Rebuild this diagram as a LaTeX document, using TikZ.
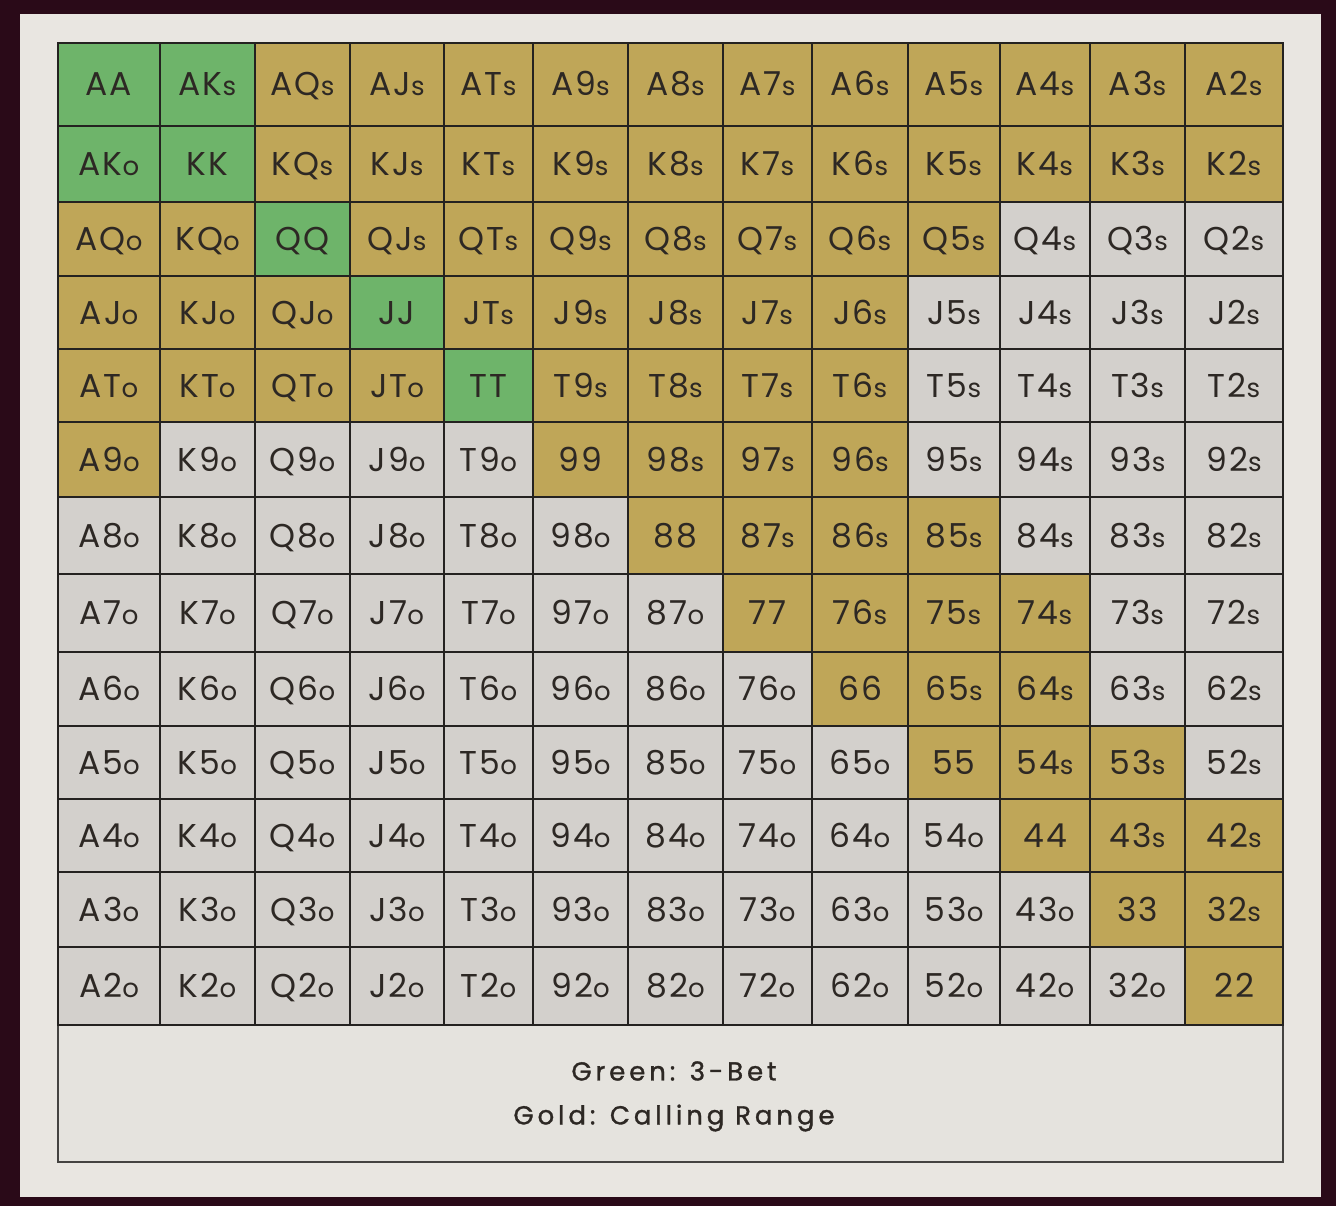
\documentclass[tikz,border=0pt]{standalone}
\usepackage{fontspec}
\setmainfont{Poppins}
\definecolor{cgreen}{RGB}{110,180,106}
\definecolor{cgold}{RGB}{191,166,88}
\definecolor{cgray}{RGB}{211,208,204}
\definecolor{cpanel}{RGB}{233,230,225}
\definecolor{clegend}{RGB}{229,227,222}
\definecolor{cmaroon}{RGB}{42,10,24}
\definecolor{cline}{RGB}{36,34,32}
\definecolor{ctext}{RGB}{45,40,36}
\newcommand\suffixtxt[1]{{\fontsize{26}{26}\selectfont #1}}
\begin{document}
\begin{tikzpicture}[x=1pt,y=-1pt,
  cellbox/.style={draw=cline, line width=2.6pt, inner sep=0pt, outer sep=0pt,
    anchor=north west, text=ctext, font=\fontsize{33}{33}\selectfont\addfontfeature{LetterSpace=6},
    text height=23pt, text depth=0pt},
  legendbox/.style={draw=cline!85, line width=2.4pt, fill=clegend, inner sep=0pt, outer sep=0pt, anchor=north west},
  legendtxt/.style={text=ctext, inner sep=0pt, font=\fontsize{26}{26}\selectfont\addfontfeature{LetterSpace=15,FakeBold=1.2}}]
\useasboundingbox (0,0) rectangle (1336,1206);
\fill[cmaroon] (0,0) rectangle (1336,1206);
\fill[cpanel] (20,14) rectangle (1321,1197);
\node[legendbox, minimum width=1225pt, minimum height=137pt] (legend) at (58,1025) {};
\def\xs{{58,160,255,350,444,533,628,723,812,908,1000,1090,1185,1283}}
\def\ys{{43,126,202,276,349,422,497,574,652,726,799,872,947,1025}}
\def\ranks{{"A","K","Q","J","T","9","8","7","6","5","4","3","2"}}
\foreach [count=\ri from 0] \rowcols in {
  {2,2,1,1,1,1,1,1,1,1,1,1,1},
  {2,2,1,1,1,1,1,1,1,1,1,1,1},
  {1,1,2,1,1,1,1,1,1,1,0,0,0},
  {1,1,1,2,1,1,1,1,1,0,0,0,0},
  {1,1,1,1,2,1,1,1,1,0,0,0,0},
  {1,0,0,0,0,1,1,1,1,0,0,0,0},
  {0,0,0,0,0,0,1,1,1,1,0,0,0},
  {0,0,0,0,0,0,0,1,1,1,1,0,0},
  {0,0,0,0,0,0,0,0,1,1,1,0,0},
  {0,0,0,0,0,0,0,0,0,1,1,1,0},
  {0,0,0,0,0,0,0,0,0,0,1,1,1},
  {0,0,0,0,0,0,0,0,0,0,0,1,1},
  {0,0,0,0,0,0,0,0,0,0,0,0,1}} {
  \foreach [count=\ci from 0] \kd in \rowcols {
    \pgfmathsetmacro\xa{\xs[\ci]}
    \pgfmathsetmacro\xb{\xs[\ci+1]}
    \pgfmathsetmacro\ya{\ys[\ri]}
    \pgfmathsetmacro\yb{\ys[\ri+1]}
    \pgfmathsetmacro\cellw{\xb-\xa}
    \pgfmathsetmacro\cellh{\yb-\ya}
    \pgfmathsetmacro\rankr{\ranks[\ri]}
    \pgfmathsetmacro\rankc{\ranks[\ci]}
    \ifnum\ri=\ci \def\lbl{\rankr\rankr}\else
      \ifnum\ci>\ri \def\lbl{\rankr\rankc\suffixtxt{s}}\else
        \def\lbl{\rankc\rankr\suffixtxt{o}}\fi\fi
    \ifcase\kd \def\fc{cgray}\or\def\fc{cgold}\or\def\fc{cgreen}\fi
    \node[cellbox, fill=\fc, minimum width=\cellw pt, minimum height=\cellh pt] (cell-\ri-\ci) at (\xa,\ya) {\lbl};
  }
}
\node[legendtxt] (leg1) at (674,1071) {Green: 3-Bet};
\node[legendtxt] (leg2) at (674,1118) {Gold: Calling Range};
\end{tikzpicture}
\end{document}
